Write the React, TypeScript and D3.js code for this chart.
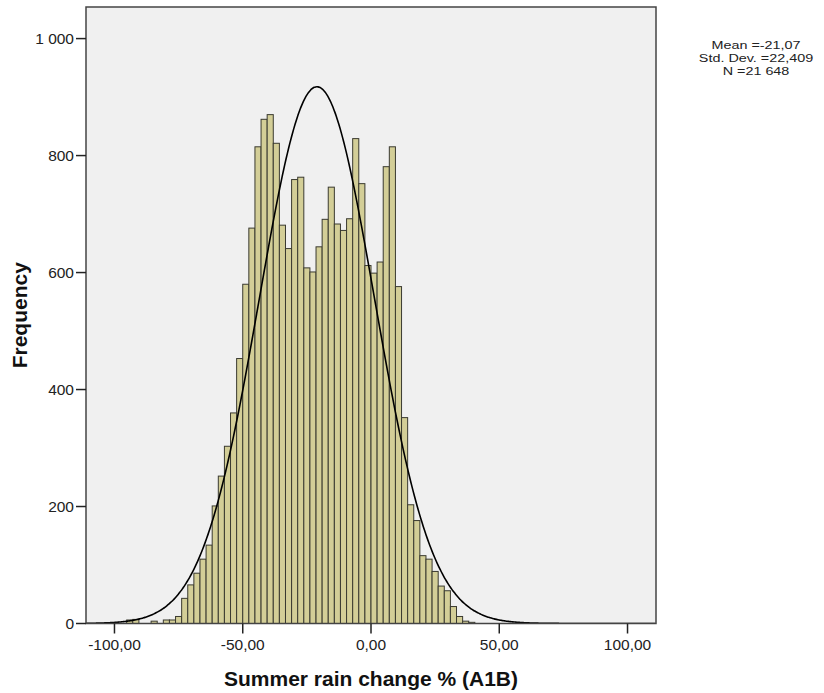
import React from "react";
import * as d3 from "d3";

// histogram bins (lower edge of first bin, width of each bin)
const firstBin = -95.24;
const binWidth = 2.381;
const counts = [
  6, 7, 0, 0, 4, 0, 6, 6, 12,
  43, 66, 86, 110, 134, 201, 252, 303, 360, 453,
  580, 676, 815, 862, 870, 821, 681, 641, 759, 763,
  608, 601, 644, 691, 746, 683, 672, 692, 829, 752,
  612, 599, 618, 781, 815, 576, 352, 203, 176, 116,
  110, 89, 64, 56, 29, 12, 4, 2,
];

const xTicks = [-100, -50, 0, 50, 100];
const yTicks = [0, 200, 400, 600, 800, 1000];

const mean = -21.07;
const stdDev = 22.409;
const n = 21648;
const statLines = ["Mean =-21,07", "Std. Dev. =22,409", "N =21 648"];

const xTitle = "Summer rain change % (A1B)";
const yTitle = "Frequency";

const width = 824;
const height = 693;
const margin = { top: 7, right: 168, bottom: 69.5, left: 86 };

const fmtX = (v: number) => v.toFixed(2).replace(".", ",");
const fmtY = (v: number) => (v >= 1000 ? d3.format(",")(v).replace(",", " ") : String(v));

export default function App() {
  const x = d3.scaleLinear().domain([-111.1, 111.1]).range([margin.left, width - margin.right]);
  const y = d3.scaleLinear().domain([0, 1054]).range([height - margin.bottom, margin.top]);

  const bins = counts.map((c, i) => ({ x0: firstBin + i * binWidth, x1: firstBin + (i + 1) * binWidth, c }));

  const norm = (v: number) =>
    (n * binWidth) / (stdDev * Math.sqrt(2 * Math.PI)) * Math.exp(-0.5 * ((v - mean) / stdDev) ** 2);
  const curvePts = d3.range(-111.1, 111.15, 0.5).map((v) => [v, norm(v)] as [number, number]);
  const line = d3.line<[number, number]>().x((d) => x(d[0])).y((d) => y(d[1])).curve(d3.curveMonotoneX);

  const font = "'Liberation Sans', Arial, sans-serif";
  const [x0, x1] = x.range();
  const [yb, yt] = y.range();

  return (
    <div style={{ position: "absolute", left: 0, top: 0 }}>
      <svg width={width} height={height} style={{ display: "block", background: "#fff" }}>
        <defs>
          <clipPath id="plot">
            <rect x={x0} y={yt} width={x1 - x0} height={yb - yt} />
          </clipPath>
        </defs>
        <rect x={x0} y={yt} width={x1 - x0} height={yb - yt} fill="#f0f0f0" />
        <g clipPath="url(#plot)">
          {bins.filter((b) => b.c > 0).map((b, i) => (
            <rect
              key={i}
              x={x(b.x0)}
              y={y(b.c)}
              width={x(b.x1) - x(b.x0)}
              height={y(0) - y(b.c)}
              fill="#d3ce97"
              stroke="#3a3a30"
              strokeWidth={1}
            />
          ))}
          <path d={line(curvePts) || ""} fill="none" stroke="#000" strokeWidth={1.6} />
        </g>
        <rect x={x0} y={yt} width={x1 - x0} height={yb - yt} fill="none" stroke="#444" strokeWidth={1.5} />

        {yTicks.map((t) => (
          <g key={t} transform={`translate(0,${y(t)})`}>
            <line x1={x0 - 10} x2={x0} stroke="#222" strokeWidth={1.5} />
            <text x={x0 - 12} dy="0.35em" textAnchor="end" fontFamily={font} fontSize={15.5} fill="#222">
              {fmtY(t)}
            </text>
          </g>
        ))}
        {xTicks.map((t) => (
          <g key={t} transform={`translate(${x(t)},0)`}>
            <line y1={yb} y2={yb + 10} stroke="#222" strokeWidth={1.5} />
            <text y={yb + 26.5} textAnchor="middle" fontFamily={font} fontSize={15.5} fill="#222">
              {fmtX(t)}
            </text>
          </g>
        ))}

        <text x={x(0)} y={686} textAnchor="middle" fontFamily={font} fontSize={21} fontWeight="bold" fill="#111">
          {xTitle}
        </text>
        <text
          transform={`translate(27,${(yt + yb) / 2}) rotate(-90)`}
          textAnchor="middle"
          fontFamily={font}
          fontSize={21}
          fontWeight="bold"
          fill="#111"
        >
          {yTitle}
        </text>

        {statLines.map((s, i) => (
          <text
            key={s}
            transform={`translate(756,${49 + i * 13}) scale(1.25,1)`}
            textAnchor="middle"
            fontFamily={font}
            fontSize={11.5}
            fill="#222"
          >
            {s}
          </text>
        ))}
      </svg>
    </div>
  );
}
